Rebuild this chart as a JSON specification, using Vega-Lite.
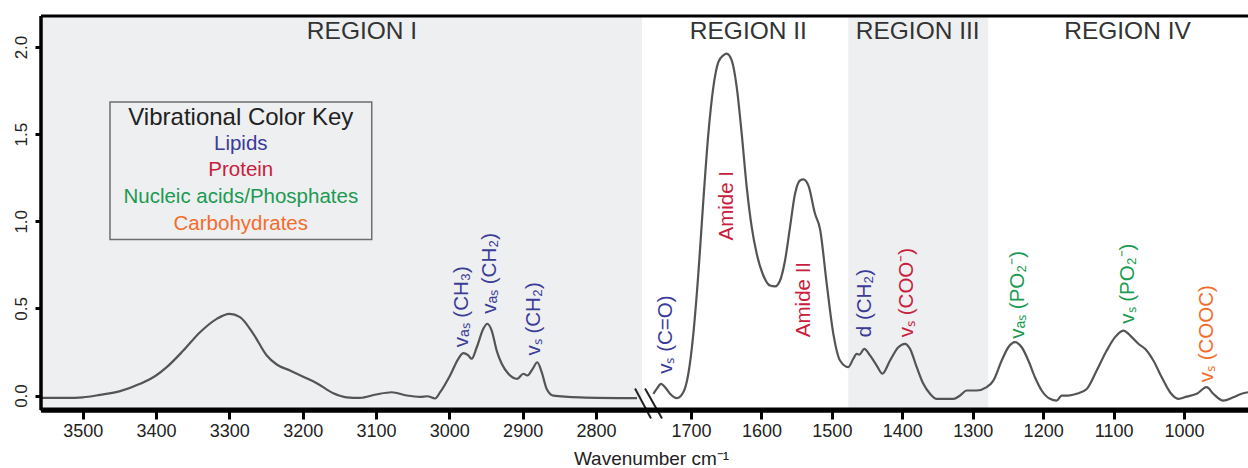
{
  "$schema": "https://vega.github.io/schema/vega-lite/v6.json",
  "padding": {"left": 0, "top": 14, "right": 0, "bottom": 0},
  "background": "white",
  "spacing": 0,
  "bounds": "flush",
  "config": {
    "view": {"stroke": null},
    "font": "Liberation Sans",
    "axis": {"labelFont": "Liberation Sans", "titleFont": "Liberation Sans", "grid": false, "labelColor": "#222222", "titleColor": "#222222", "titleFontWeight": "normal"}
  },
  "datasets": {
    "specLeft": [
      {"wn": 3556.9, "a": -0.013}, {"wn": 3521.8, "a": -0.013}, {"wn": 3500, "a": -0.010}, {"wn": 3476.4, "a": 0.004},
      {"wn": 3449, "a": 0.025}, {"wn": 3421.8, "a": 0.067}, {"wn": 3400, "a": 0.115}, {"wn": 3385.4, "a": 0.163},
      {"wn": 3362.8, "a": 0.258}, {"wn": 3340, "a": 0.363}, {"wn": 3317.2, "a": 0.440}, {"wn": 3300, "a": 0.469},
      {"wn": 3285.5, "a": 0.450}, {"wn": 3267.3, "a": 0.354}, {"wn": 3249, "a": 0.230}, {"wn": 3235.4, "a": 0.178},
      {"wn": 3217.3, "a": 0.144}, {"wn": 3200, "a": 0.109}, {"wn": 3180.8, "a": 0.071}, {"wn": 3158.2, "a": 0.013},
      {"wn": 3140, "a": -0.010}, {"wn": 3121.8, "a": -0.013}, {"wn": 3100, "a": 0.006}, {"wn": 3078.6, "a": 0.019},
      {"wn": 3058, "a": 0.000}, {"wn": 3040, "a": -0.008}, {"wn": 3030, "a": -0.004}, {"wn": 3019.5, "a": -0.017},
      {"wn": 3012.5, "a": 0.019}, {"wn": 2999, "a": 0.115}, {"wn": 2987.7, "a": 0.211}, {"wn": 2980.9, "a": 0.243},
      {"wn": 2974.1, "a": 0.230}, {"wn": 2969.5, "a": 0.211}, {"wn": 2962.6, "a": 0.277}, {"wn": 2953.6, "a": 0.383},
      {"wn": 2948.2, "a": 0.412}, {"wn": 2942.2, "a": 0.373}, {"wn": 2935.4, "a": 0.258}, {"wn": 2928.5, "a": 0.182},
      {"wn": 2919.5, "a": 0.125}, {"wn": 2907.3, "a": 0.096}, {"wn": 2899, "a": 0.125}, {"wn": 2893.6, "a": 0.115},
      {"wn": 2886.3, "a": 0.153}, {"wn": 2880, "a": 0.191}, {"wn": 2874, "a": 0.134}, {"wn": 2867.2, "a": 0.038},
      {"wn": 2858.2, "a": 0.000}, {"wn": 2821.7, "a": -0.010}, {"wn": 2744, "a": -0.015}
    ],
    "specRight": [
      {"wn": 1753.5, "a": 0.010}, {"wn": 1748.7, "a": 0.038}, {"wn": 1742.6, "a": 0.067}, {"wn": 1736.9, "a": 0.048},
      {"wn": 1729.8, "a": 0.010}, {"wn": 1720.3, "a": -0.015}, {"wn": 1710.9, "a": 0.019}, {"wn": 1703.8, "a": 0.125},
      {"wn": 1696.7, "a": 0.354}, {"wn": 1689.6, "a": 0.699}, {"wn": 1682.5, "a": 1.119}, {"wn": 1675.4, "a": 1.502},
      {"wn": 1668.3, "a": 1.770}, {"wn": 1661.2, "a": 1.913}, {"wn": 1654.1, "a": 1.952}, {"wn": 1649.3, "a": 1.962},
      {"wn": 1642.2, "a": 1.923}, {"wn": 1635.1, "a": 1.770}, {"wn": 1628, "a": 1.502}, {"wn": 1620.9, "a": 1.196},
      {"wn": 1613.8, "a": 0.966}, {"wn": 1606.7, "a": 0.813}, {"wn": 1597.3, "a": 0.689}, {"wn": 1587.8, "a": 0.631},
      {"wn": 1580.7, "a": 0.626}, {"wn": 1573.6, "a": 0.660}, {"wn": 1566.5, "a": 0.775}, {"wn": 1559.4, "a": 0.966},
      {"wn": 1552.3, "a": 1.158}, {"wn": 1545.2, "a": 1.234}, {"wn": 1540.5, "a": 1.240}, {"wn": 1533.4, "a": 1.206},
      {"wn": 1523.9, "a": 1.043}, {"wn": 1516.8, "a": 0.955}, {"wn": 1507.3, "a": 0.641}, {"wn": 1497.9, "a": 0.354},
      {"wn": 1488.4, "a": 0.201}, {"wn": 1476.7, "a": 0.163}, {"wn": 1469.6, "a": 0.211}, {"wn": 1464.8, "a": 0.239},
      {"wn": 1461.0, "a": 0.235}, {"wn": 1453.9, "a": 0.268}, {"wn": 1445.8, "a": 0.230}, {"wn": 1436.3, "a": 0.172},
      {"wn": 1428.3, "a": 0.125}, {"wn": 1417.4, "a": 0.201}, {"wn": 1405.6, "a": 0.277}, {"wn": 1396.1, "a": 0.297},
      {"wn": 1389, "a": 0.268}, {"wn": 1379.5, "a": 0.163}, {"wn": 1370.1, "a": 0.067}, {"wn": 1360.6, "a": 0.010},
      {"wn": 1351.1, "a": -0.019}, {"wn": 1327.5, "a": -0.019}, {"wn": 1318, "a": 0.000}, {"wn": 1308.5, "a": 0.029},
      {"wn": 1294.3, "a": 0.029}, {"wn": 1280.1, "a": 0.048}, {"wn": 1270.7, "a": 0.086}, {"wn": 1258.8, "a": 0.201},
      {"wn": 1249.4, "a": 0.277}, {"wn": 1239.8, "a": 0.306}, {"wn": 1230.4, "a": 0.277}, {"wn": 1221, "a": 0.201},
      {"wn": 1211.6, "a": 0.105}, {"wn": 1202.1, "a": 0.029}, {"wn": 1190.3, "a": -0.019}, {"wn": 1180.8, "a": -0.029},
      {"wn": 1173.7, "a": 0.000}, {"wn": 1164.2, "a": 0.000}, {"wn": 1152.3, "a": 0.010}, {"wn": 1138.1, "a": 0.038},
      {"wn": 1123.9, "a": 0.144}, {"wn": 1109.7, "a": 0.258}, {"wn": 1097.9, "a": 0.335}, {"wn": 1086.1, "a": 0.373},
      {"wn": 1074.2, "a": 0.335}, {"wn": 1064.8, "a": 0.297}, {"wn": 1055.3, "a": 0.268}, {"wn": 1043.5, "a": 0.201},
      {"wn": 1031.6, "a": 0.105}, {"wn": 1019.8, "a": 0.019}, {"wn": 1008, "a": -0.019}, {"wn": 996.2, "a": -0.006},
      {"wn": 982, "a": 0.010}, {"wn": 967.8, "a": 0.048}, {"wn": 958.4, "a": 0.010}, {"wn": 944.2, "a": -0.029},
      {"wn": 930, "a": -0.010}, {"wn": 918.2, "a": 0.010}, {"wn": 909.1, "a": 0.019}
    ],
    "annLeft": [
      {"wn": 2983.1, "a": 0.277, "text": "vₐₛ (CH₃)", "group": "Lipids"},
      {"wn": 2944.5, "a": 0.469, "text": "vₐₛ (CH₂)", "group": "Lipids"},
      {"wn": 2884.5, "a": 0.230, "text": "vₛ (CH₂)", "group": "Lipids"}
    ],
    "annRight": [
      {"wn": 1735.8, "a": 0.125, "text": "vₛ (C=O)", "group": "Lipids"},
      {"wn": 1648.9, "a": 0.890, "text": "Amide I", "group": "Protein"},
      {"wn": 1539.8, "a": 0.335, "text": "Amide II", "group": "Protein"},
      {"wn": 1452.9, "a": 0.335, "text": "d (CH₂)", "group": "Lipids"},
      {"wn": 1393.7, "a": 0.335, "text": "vₛ (COO⁻)", "group": "Protein"},
      {"wn": 1235.7, "a": 0.326, "text": "vₐₛ (PO₂⁻)", "group": "Nucleic acids/Phosphates"},
      {"wn": 1079.5, "a": 0.412, "text": "vₛ (PO₂⁻)", "group": "Nucleic acids/Phosphates"},
      {"wn": 967.8, "a": 0.076, "text": "vₛ (COOC)", "group": "Carbohydrates"}
    ],
    "regionLeft": [{"text": "REGION I", "wn": 3119.1, "a": 2.087}],
    "regionRight": [
      {"text": "REGION II", "wn": 1618.6, "a": 2.087},
      {"text": "REGION III", "wn": 1378.1, "a": 2.087},
      {"text": "REGION IV", "wn": 1080.2, "a": 2.087}
    ],
    "shadeLeft": [{"start": 3556.9, "end": 2737.2}],
    "shadeRight": [{"start": 1476.7, "end": 1277.9}],
    "keyBox": [{"x1": 3462.8, "x2": 3105.8, "y1": 1.684, "y2": 0.896}],
    "keyText": [
      {"wn": 3284.4, "a": 1.590, "text": "Vibrational Color Key", "group": "Key", "size": 24},
      {"wn": 3284.4, "a": 1.441, "text": "Lipids", "group": "Lipids", "size": 20.5},
      {"wn": 3284.4, "a": 1.292, "text": "Protein", "group": "Protein", "size": 20.5},
      {"wn": 3284.4, "a": 1.142, "text": "Nucleic acids/Phosphates", "group": "Nucleic acids/Phosphates", "size": 20.5},
      {"wn": 3284.4, "a": 0.987, "text": "Carbohydrates", "group": "Carbohydrates", "size": 20.5}
    ],
    "breaks": [
      {"x1": 1779.5, "y1": 0.040, "x2": 1756.8, "y2": -0.132},
      {"x1": 1765.3, "y1": 0.040, "x2": 1741.2, "y2": -0.132}
    ],
    "frameTop": [{"top": 2.178}],
    "frameBottom": [{"bottom": -0.083}],
    "frameLeft": [{"left": 3556.9}]
  },
  "hconcat": [
    {
      "width": 601,
      "height": 394,
      "layer": [
        {
          "data": {"name": "shadeLeft"},
          "mark": {"type": "rect", "color": "#eeeff1"},
          "encoding": {
            "x": {"field": "start", "type": "quantitative", "scale": {"domain": [3556.9, 2737.2], "nice": false, "zero": false},
              "axis": {"values": [3500, 3400, 3300, 3200, 3100, 3000, 2900, 2800], "format": "d", "labelFontSize": 18, "domain": true, "domainColor": "black", "domainWidth": 4, "ticks": true, "tickColor": "black", "tickSize": 9, "tickWidth": 3, "labelPadding": 3, "title": "Wavenumber cm⁻¹", "titleFontSize": 19, "titleX": 610, "titleAlign": "center", "titlePadding": 9}},
            "x2": {"field": "end"}
          }
        },
        {
          "data": {"name": "specLeft"},
          "mark": {"type": "line", "color": "#545454", "strokeWidth": 2.2, "interpolate": "monotone"},
          "encoding": {
            "x": {"field": "wn", "type": "quantitative"},
            "y": {"field": "a", "type": "quantitative", "scale": {"domain": [-0.083, 2.178], "nice": false, "zero": false},
              "axis": {"values": [0, 0.5, 1, 1.5, 2], "format": ".1f", "labelFontSize": 17, "labelAngle": 270, "labelAlign": "center", "labelBaseline": "bottom", "domain": true, "domainColor": "black", "domainWidth": 3, "ticks": true, "tickColor": "black", "tickSize": 6, "tickWidth": 3, "labelPadding": 5, "title": null, "minExtent": 41, "maxExtent": 41}}
          }
        },
        {
          "data": {"name": "keyBox"},
          "mark": {"type": "rect", "filled": false, "stroke": "#6e6e6e", "strokeWidth": 1.5},
          "encoding": {
            "x": {"field": "x1", "type": "quantitative"},
            "x2": {"field": "x2"},
            "y": {"field": "y1", "type": "quantitative"},
            "y2": {"field": "y2"}
          }
        },
        {
          "data": {"name": "annLeft"},
          "mark": {"type": "text", "angle": 270, "align": "left", "baseline": "middle", "fontSize": 20.5},
          "encoding": {
            "x": {"field": "wn", "type": "quantitative"},
            "y": {"field": "a", "type": "quantitative"},
            "text": {"field": "text"},
            "color": {"field": "group", "type": "nominal", "legend": null,
              "scale": {"domain": ["Key", "Lipids", "Protein", "Nucleic acids/Phosphates", "Carbohydrates"], "range": ["#222222", "#3b3b98", "#c8203c", "#1b9a52", "#f26d2d"]}}
          }
        },
        {
          "data": {"name": "regionLeft"},
          "mark": {"type": "text", "align": "center", "baseline": "middle", "fontSize": 24.5, "color": "#333333"},
          "encoding": {
            "x": {"field": "wn", "type": "quantitative"},
            "y": {"field": "a", "type": "quantitative"},
            "text": {"field": "text"}
          }
        },
        {
          "data": {"name": "keyText"},
          "mark": {"type": "text", "align": "center", "baseline": "middle"},
          "encoding": {
            "x": {"field": "wn", "type": "quantitative"},
            "y": {"field": "a", "type": "quantitative"},
            "text": {"field": "text"},
            "size": {"field": "size", "type": "quantitative", "scale": null, "legend": null},
            "color": {"field": "group", "type": "nominal", "legend": null}
          }
        },
        {
          "data": {"name": "frameTop"},
          "mark": {"type": "rule", "color": "black", "strokeWidth": 3},
          "encoding": {"y": {"field": "top", "type": "quantitative"}}
        },
        {
          "data": {"name": "frameBottom"},
          "mark": {"type": "rule", "color": "black", "strokeWidth": 5},
          "encoding": {"y": {"field": "bottom", "type": "quantitative"}}
        },
        {
          "data": {"name": "frameLeft"},
          "mark": {"type": "rule", "color": "black", "strokeWidth": 3.5},
          "encoding": {"x": {"field": "left", "type": "quantitative"}}
        }
      ]
    },
    {
      "width": 606,
      "height": 394,
      "layer": [
        {
          "data": {"name": "shadeRight"},
          "mark": {"type": "rect", "color": "#eeeff1"},
          "encoding": {
            "x": {"field": "start", "type": "quantitative", "scale": {"domain": [1769.6, 909.1], "nice": false, "zero": false},
              "axis": {"values": [1700, 1600, 1500, 1400, 1300, 1200, 1100, 1000], "format": "d", "labelFontSize": 18, "domain": true, "domainColor": "black", "domainWidth": 4, "ticks": true, "tickColor": "black", "tickSize": 9, "tickWidth": 3, "labelPadding": 3, "title": null}},
            "x2": {"field": "end"}
          }
        },
        {
          "data": {"name": "specRight"},
          "mark": {"type": "line", "color": "#545454", "strokeWidth": 2.2, "interpolate": "monotone"},
          "encoding": {
            "x": {"field": "wn", "type": "quantitative"},
            "y": {"field": "a", "type": "quantitative", "scale": {"domain": [-0.083, 2.178], "nice": false, "zero": false}, "axis": null}
          }
        },
        {
          "data": {"name": "annRight"},
          "mark": {"type": "text", "angle": 270, "align": "left", "baseline": "middle", "fontSize": 20.5},
          "encoding": {
            "x": {"field": "wn", "type": "quantitative"},
            "y": {"field": "a", "type": "quantitative", "axis": null},
            "text": {"field": "text"},
            "color": {"field": "group", "type": "nominal", "legend": null}
          }
        },
        {
          "data": {"name": "regionRight"},
          "mark": {"type": "text", "align": "center", "baseline": "middle", "fontSize": 24.5, "color": "#333333"},
          "encoding": {
            "x": {"field": "wn", "type": "quantitative"},
            "y": {"field": "a", "type": "quantitative", "axis": null},
            "text": {"field": "text"}
          }
        },
        {
          "data": {"name": "breaks"},
          "mark": {"type": "rule", "color": "#222222", "strokeWidth": 2, "clip": false},
          "encoding": {
            "x": {"field": "x1", "type": "quantitative"},
            "x2": {"field": "x2"},
            "y": {"field": "y1", "type": "quantitative", "axis": null},
            "y2": {"field": "y2"}
          }
        },
        {
          "data": {"name": "frameTop"},
          "mark": {"type": "rule", "color": "black", "strokeWidth": 3},
          "encoding": {"y": {"field": "top", "type": "quantitative", "axis": null}}
        },
        {
          "data": {"name": "frameBottom"},
          "mark": {"type": "rule", "color": "black", "strokeWidth": 5},
          "encoding": {"y": {"field": "bottom", "type": "quantitative", "axis": null}}
        }
      ]
    }
  ]
}
